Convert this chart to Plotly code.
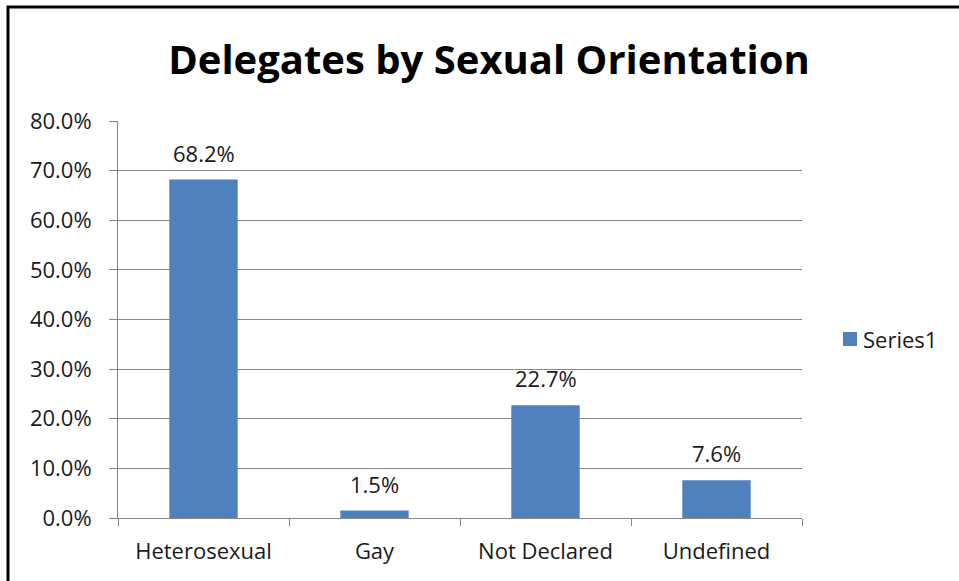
import plotly.graph_objects as go

categories = ["Heterosexual", "Gay", "Not Declared", "Undefined"]
shares = [0.682, 0.015, 0.227, 0.076]
series_name = "Series1"

W, H = 959, 581
L, R, T, B = 118, 157, 121, 63
pw, ph = W - L - R, H - T - B

def px_x(p):
    return (p - L) / pw

def px_y(p):
    return (H - B - p) / ph

font_main = "Open Sans, sans-serif"
text_col = "#1a1a1a"
bar_col = "#4F81BD"
axis_col = "#868686"

fig = go.Figure()
fig.add_trace(go.Bar(
    x=categories,
    y=shares,
    name=series_name,
    marker=dict(color=bar_col, line=dict(width=0)),
    width=0.4,
    showlegend=False,
))

# value labels above each bar
for cat, v in zip(categories, shares):
    fig.add_annotation(
        x=cat, y=v, xref="x", yref="y",
        text=f"{v*100:.1f}%", showarrow=False,
        yanchor="bottom", yshift=10,
        font=dict(size=22, color=text_col, family=font_main),
    )

# legend: swatch + series name
fig.add_shape(
    type="rect", xref="paper", yref="paper",
    x0=px_x(843), x1=px_x(857), y0=px_y(346), y1=px_y(332),
    line=dict(width=0), fillcolor=bar_col,
)
fig.add_annotation(
    x=px_x(861), y=px_y(339), xref="paper", yref="paper",
    text=series_name, showarrow=False, xanchor="left", yanchor="middle",
    font=dict(size=22, color=text_col, family=font_main),
)

fig.update_layout(
    width=W, height=H,
    margin=dict(l=L, r=R, t=T, b=B),
    paper_bgcolor="white",
    plot_bgcolor="white",
    font=dict(family=font_main, size=22, color=text_col),
    title=dict(
        text="<b>Delegates by Sexual Orientation</b>",
        x=px_x(489), xref="paper", xanchor="center",
        y=1 - 60 / H, yanchor="middle",
        font=dict(size=40, color="black", family=font_main),
    ),
    bargap=0.6,
    showlegend=False,
)

fig.update_yaxes(
    range=[0, 0.8], dtick=0.1, tickformat=".1%",
    showgrid=True, gridcolor=axis_col, gridwidth=1,
    showline=True, linecolor=axis_col, linewidth=1,
    ticks="outside", ticklen=8, tickcolor=axis_col,
    ticklabelstandoff=13,
    tickfont=dict(size=22, color=text_col),
    zeroline=False,
)
fig.update_xaxes(
    showline=True, linecolor=axis_col, linewidth=1,
    ticks="outside", ticklen=7, tickcolor=axis_col,
    tickson="boundaries",
    ticklabelstandoff=14,
    tickfont=dict(size=22, color=text_col),
    showgrid=False,
)

# outer chart frame
fig.add_shape(
    type="rect", xref="paper", yref="paper",
    x0=px_x(8), x1=px_x(1200), y0=px_y(900), y1=px_y(7),
    line=dict(color="black", width=3), fillcolor="rgba(0,0,0,0)",
    layer="above",
)

fig.write_html("out.html")
